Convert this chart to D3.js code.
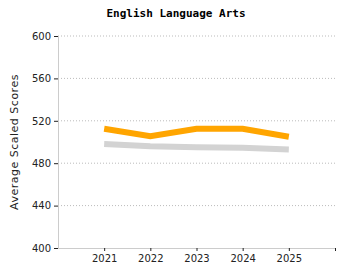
<!DOCTYPE html>
<html>
<head>
  <style>
    body { margin: 0; background: white; }
    text { font-family: "DejaVu Sans", sans-serif; }
  </style>
</head>
<body>
  <script src="https://d3js.org/d3.v7.min.js"></script>
  <script>
    var width = 350, height = 280;

    var years = [2021, 2022, 2023, 2024, 2025];
    var schoolScores = [512.5, 505.5, 512.5, 512.5, 505];
    var stateScores = [498, 496, 495, 494.5, 493];
    var yTicks = [400, 440, 480, 520, 560, 600];

    var margin = {top: 36, right: 15, bottom: 32, left: 58};

    var svg = d3.select("body").append("svg")
        .attr("width", width)
        .attr("height", height);

    var x = d3.scaleLinear().domain([2020, 2026]).range([margin.left, width - margin.right]);
    var y = d3.scaleLinear().domain([400, 600]).range([height - margin.bottom, margin.top]);

    // title
    svg.append("text")
        .attr("x", 176).attr("y", 17)
        .attr("text-anchor", "middle")
        .style("font-family", "'DejaVu Sans Mono', monospace")
        .style("font-weight", "bold")
        .style("font-size", "11px")
        .text("English Language Arts");

    // gridlines
    svg.selectAll(".grid").data(yTicks.filter(d => d > 400))
      .enter().append("line")
        .attr("x1", x(2020)).attr("x2", x(2026))
        .attr("y1", d => y(d)).attr("y2", d => y(d))
        .attr("stroke", "#bbb")
        .attr("stroke-dasharray", "1,2");

    // y axis
    var yAxis = svg.append("g")
        .attr("transform", "translate(" + margin.left + ",0)")
        .call(d3.axisLeft(y).tickValues(yTicks).tickSize(4).tickPadding(3));
    yAxis.select(".domain").attr("stroke", "#ccc");
    yAxis.selectAll(".tick line").attr("stroke", "#222");
    yAxis.selectAll("text").style("font-size", "10px").attr("fill", "#222");

    // x axis
    var xAxis = svg.append("g")
        .attr("transform", "translate(0," + y(400) + ")")
        .call(d3.axisBottom(x).tickValues(years.concat([2026]))
          .tickFormat(d => d === 2026 ? "" : d).tickSize(3).tickSizeOuter(0).tickPadding(4));
    xAxis.select(".domain").attr("stroke", "#ccc");
    xAxis.selectAll(".tick line").attr("stroke", "#222");
    xAxis.selectAll("text").style("font-size", "10px").attr("fill", "#222");

    // axis title
    svg.append("text")
        .attr("transform", "translate(18," + (y(500)) + ") rotate(-90)")
        .attr("text-anchor", "middle")
        .style("font-size", "11px")
        .style("letter-spacing", "0.5px")
        .attr("fill", "#222")
        .text("Average Scaled Scores");

    var line = d3.line()
        .x((d, i) => x(years[i]))
        .y(d => y(d));

    svg.append("path")
        .datum(stateScores)
        .attr("d", line)
        .attr("fill", "none")
        .attr("stroke", "#d3d3d3")
        .attr("stroke-width", 6);

    svg.append("path")
        .datum(schoolScores)
        .attr("d", line)
        .attr("fill", "none")
        .attr("stroke", "orange")
        .attr("stroke-width", 6);
  </script>
</body>
</html>
